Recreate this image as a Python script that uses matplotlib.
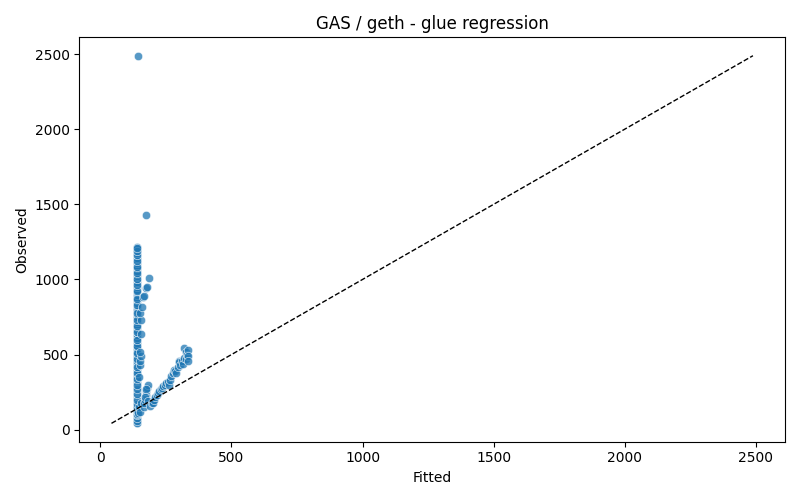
import numpy as np
import pandas as pd
import matplotlib
matplotlib.use("Agg")
import matplotlib.pyplot as plt
import seaborn as sns

# main column of fitted ~140
col_obs = [42, 48, 55, 63, 70, 78, 85, 92, 100, 108, 115, 122, 130, 138, 145, 152,
           160, 168, 175, 183, 190, 198, 206, 214, 222, 230, 238, 247, 255, 265,
           275, 285, 296, 308, 320, 333, 345, 358, 372, 386, 400, 414, 428, 442,
           458, 474, 490, 505, 520, 538, 556, 575, 594, 612, 630, 648, 666, 684,
           700, 718, 735, 752, 770, 788, 806, 824, 842, 860, 878, 896, 914, 932,
           950, 968, 985, 1002, 1020, 1038, 1056, 1074, 1092, 1110, 1128, 1146,
           1162, 1178, 1192, 1205, 1218]
col_fit = [140] * len(col_obs)

# second pass of the column, slightly offset, where points pile up
col2_obs = [45, 60, 75, 95, 105, 125, 150, 170, 200, 235, 270, 300, 340, 380, 420,
            470, 510, 560, 600, 650, 690, 730, 780, 830, 870, 920, 960, 1000, 1040,
            1080, 1120, 1160, 1190, 1210]
col2_fit = [141] * len(col2_obs)

# side points next to the column
side_fit = [145, 148, 150, 152, 155, 154, 153, 150, 158, 162, 168, 175, 178, 185, 175, 143,
            150, 153, 146, 150]
side_obs = [110, 150, 430, 460, 490, 640, 727, 780, 820, 880, 890, 940, 950, 1010, 1430, 2490,
            120, 180, 350, 520]

# low cluster and rising trend
trend_fit = [165, 168, 170, 172, 175, 178, 180, 170, 175, 180, 190, 195, 200, 205, 210, 215,
             220, 225, 230, 235, 240, 245, 250, 258, 262, 265, 270, 275, 280, 285, 290,
             295, 298, 300, 305, 310, 315, 318, 320, 325, 328, 330, 333, 335, 335]
trend_obs = [150, 175, 200, 230, 255, 280, 300, 220, 270, 190, 160, 175, 180, 200, 215, 230,
             245, 260, 270, 280, 290, 300, 310, 320, 300, 330, 360, 380, 400, 390, 380,
             420, 460, 450, 430, 460, 440, 480, 545, 520, 470, 500, 530, 490, 460]

fitted = col_fit + col2_fit + side_fit + trend_fit
observed = col_obs + col2_obs + side_obs + trend_obs
df = pd.DataFrame({"fitted": fitted, "observed": observed})

fig, ax = plt.subplots(figsize=(8, 5), dpi=100)
sns.scatterplot(data=df, x="fitted", y="observed", alpha=0.75, ax=ax)
lo = min(df.min())
hi = max(df.max())
ax.plot([lo, hi], [lo, hi], "k--", lw=1)
ax.set_xlabel("Fitted")
ax.set_ylabel("Observed")
ax.set_title("GAS / geth - glue regression")
fig.tight_layout()
fig.savefig("out.png")
